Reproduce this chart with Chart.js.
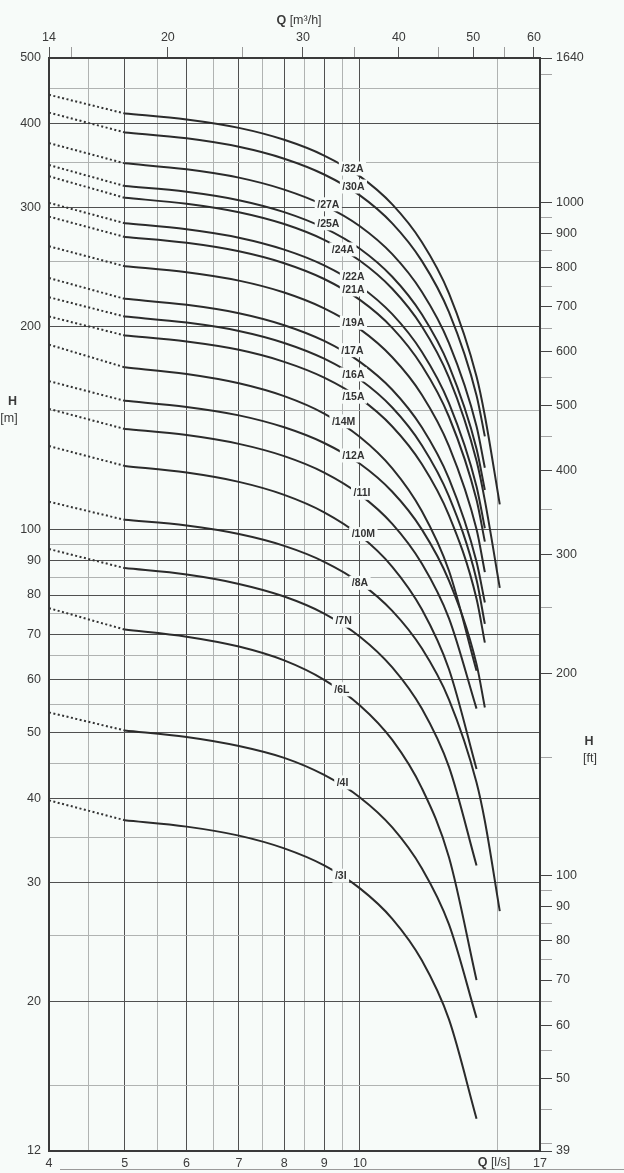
<!DOCTYPE html>
<html>
<head>
<meta charset="utf-8">
<script src="https://cdn.jsdelivr.net/npm/chart.js@4.4.0/dist/chart.umd.min.js"></script>
<style>
  html, body { margin: 0; padding: 0; background: #f7fbf9; }
  canvas { display: block; }
</style>
</head>
<body>
<canvas id="pump" width="624" height="1173"></canvas>
<script>
const BG = '#f7fbf9';
const INK = '#2b2b2b';
const TXT = '#3a3a3a';
const GRID_DARK = '#505050';
const GRID_LIGHT = '#b0b3b2';
const FONT = '"Liberation Sans", Arial, sans-serif';

// bottom axis Q [l/s]
const qTicks = [4, 4.5, 5, 5.5, 6, 6.5, 7, 7.5, 8, 8.5, 9, 9.5, 10, 15, 17];
const qLabels = [4, 5, 6, 7, 8, 9, 10, 17];
const qMajor = [5, 6, 7, 8, 9, 10];
// top axis Q [m3/h]
const m3Ticks = [14, 15, 20, 25, 30, 35, 40, 45, 50, 55, 60];
const m3Labels = [14, 20, 30, 40, 50, 60];
// left axis H [m]
const hTicks = [12, 15, 20, 25, 30, 35, 40, 45, 50, 55, 60, 65, 70, 75, 80, 85, 90, 95, 100, 150, 200, 250, 300, 350, 400, 450, 500];
const hLabels = [12, 20, 30, 40, 50, 60, 70, 80, 90, 100, 200, 300, 400, 500];
const hMajor = [20, 30, 40, 50, 60, 70, 80, 90, 100, 200, 300, 400];
// right axis H [ft]
const ftTicks = [39, 40, 45, 50, 55, 60, 65, 70, 75, 80, 85, 90, 95, 100, 150, 200, 250, 300, 350, 400, 450, 500, 550, 600, 650, 700, 750, 800, 850, 900, 950, 1000, 1550, 1640];
const ftLabels = [39, 50, 60, 70, 80, 90, 100, 200, 300, 400, 500, 600, 700, 800, 900, 1000, 1640];

// curves
const curveNames = ['/32A', '/30A', '/27A', '/25A', '/24A', '/22A', '/21A', '/19A', '/17A', '/16A',
  '/15A', '/14M', '/12A', '/11I', '/10M', '/8A', '/7N', '/6L', '/4I', '/3I'];
const qDotted = [4, 5];
const hAtStart = [441, 415, 374, 347, 334, 305, 291, 263, 236, 221, 207, 188, 166, 151, 133, 110, 93.6, 76.5, 53.6, 39.7];
const qCurve = [5, 6, 7, 8, 9, 10, 11, 12, 13, 14.1, 14.45, 15.1];
const h32A = [413.8, 405.4, 393.9, 378.2, 358.4, 333.8, 303.4, 266.9, 224, 168.6, 147.5, 109];
const h30A = [387.9, 380.1, 369.3, 354.6, 336, 312.9, 284.4, 250.2, 210, 158.1, 137.5, null];
const h27A = [349, 342, 332.4, 319.1, 302.4, 281.6, 256, 225.2, 189, 142.3, 123.5, null];
const h25A = [323, 316.8, 307.8, 295.5, 280, 260.8, 237, 208.5, 175, 131.8, 114.5, null];
const h24A = [310.3, 304.1, 295.4, 283.7, 268.8, 250.3, 227.5, 200.2, 168, 126.5, 110.5, 82];
const h22A = [284.5, 278.7, 270.8, 260, 246.4, 229.5, 208.6, 183.5, 154, 115.9, 100.5, null];
const h21A = [271.5, 266.1, 258.5, 248.2, 235.2, 219, 199.1, 175.1, 147, 110.7, 96, null];
const h19A = [245.7, 240.7, 233.9, 224.6, 212.8, 198.2, 180.1, 158.5, 133, 100.1, 86.5, null];
const h17A = [219.8, 215.4, 209.3, 200.9, 190.4, 177.3, 161.2, 141.8, 119, 89.6, 78, null];
const h16A = [206.9, 202.7, 197, 189.1, 179.2, 166.9, 151.7, 133.4, 112, 84.3, 72.5, null];
const h15A = [194, 190, 184.7, 177.3, 168, 156.5, 142.2, 125.1, 105, 79, 68, null];
const h14M = [174, 170.1, 164.8, 157.7, 148.6, 137.2, 123.3, 106.6, 86.9, 61.8, null, null];
const h12A = [155.2, 152, 147.7, 141.8, 134.4, 125.2, 113.8, 100.1, 84, 63.2, 54.5, null];
const h11I = [141, 138.1, 134, 128.5, 121.5, 112.7, 102, 89.1, 73.9, 54.3, null, null];
const h10M = [124.3, 121.5, 117.7, 112.6, 106.1, 98, 88.1, 76.2, 62.1, 44.2, null, null];
const h8A = [103.4, 101.4, 98.5, 94.6, 89.6, 83.4, 75.8, 66.7, 56, 42.2, 37, 27.2];
const h7N = [87.7, 85.8, 83.1, 79.6, 75.1, 69.4, 62.5, 54.3, 44.5, 31.8, null, null];
const h6L = [71.1, 69.4, 67.1, 64, 59.9, 54.9, 48.8, 41.4, 32.7, 21.5, null, null];
const h4I = [50.4, 49.3, 47.8, 45.9, 43.3, 40.1, 36.2, 31.5, 26, 18.9, null, null];
const h3I = [37.1, 36.3, 35.2, 33.7, 31.8, 29.4, 26.5, 23, 18.8, 13.4, null, null];
const curves = [h32A, h30A, h27A, h25A, h24A, h22A, h21A, h19A, h17A, h16A,
  h15A, h14M, h12A, h11I, h10M, h8A, h7N, h6L, h4I, h3I];

// where the curve names sit
const labelQ = [9.78, 9.81, 9.11, 9.11, 9.51, 9.81, 9.81, 9.81, 9.78, 9.81, 9.81, 9.53, 9.81, 10.06, 10.1, 10.0, 9.53, 9.48, 9.5, 9.45];
const labelH = [342.9, 322.5, 303.5, 284.4, 260.2, 236.8, 227, 202.6, 184.5, 169.8, 157.4, 144.7, 128.8, 113.4, 98.5, 83.4, 73.3, 58.0, 42.2, 30.7];

const datasets = [];
curves.forEach((h, i) => {
  datasets.push({
    label: curveNames[i] + ' ext',
    data: [{x: qDotted[0], y: hAtStart[i]}, {x: qDotted[1], y: h[0]}],
    borderColor: '#333',
    borderWidth: 2,
    borderDash: [2, 2.5],
    pointRadius: 0,
    tension: 0
  });
  datasets.push({
    label: curveNames[i],
    data: qCurve.map((q, j) => ({x: q, y: h[j]})).filter(p => p.y !== null),
    borderColor: INK,
    borderWidth: 2,
    pointRadius: 0,
    cubicInterpolationMode: 'monotone'
  });
});

const setTicks = list => scale => { scale.ticks = list.map(v => ({value: v})); };
const noPad = s => { s.paddingLeft = 0; s.paddingRight = 0; s.paddingTop = 0; s.paddingBottom = 0; };
const tickFont = {family: FONT, size: 12.5};

const background = {
  id: 'background',
  beforeDraw(chart) {
    const ctx = chart.ctx;
    ctx.save();
    ctx.fillStyle = BG;
    ctx.fillRect(0, 0, chart.width, chart.height);
    ctx.restore();
  }
};

const curveLabels = {
  id: 'curveLabels',
  afterDatasetsDraw(chart) {
    const {ctx, scales: {x, y}} = chart;
    ctx.save();
    ctx.font = 'bold 10.5px ' + FONT;
    ctx.textAlign = 'center';
    ctx.textBaseline = 'middle';
    curveNames.forEach((name, i) => {
      const px = x.getPixelForValue(labelQ[i]);
      const py = y.getPixelForValue(labelH[i]);
      const w = ctx.measureText(name).width + 5;
      ctx.fillStyle = BG;
      ctx.fillRect(px - w / 2, py - 7, w, 14);
      ctx.fillStyle = '#333';
      ctx.fillText(name, px, py + 0.5);
    });
    ctx.restore();
  }
};

function twoPart(ctx, bold, normal, cx, cy) {
  ctx.font = 'bold 12.5px ' + FONT;
  const w1 = ctx.measureText(bold).width;
  ctx.font = '12.5px ' + FONT;
  const w2 = ctx.measureText(normal).width;
  let x0 = cx - (w1 + w2) / 2;
  ctx.textAlign = 'left';
  ctx.font = 'bold 12.5px ' + FONT;
  ctx.fillText(bold, x0, cy);
  ctx.font = '12.5px ' + FONT;
  ctx.fillText(normal, x0 + w1, cy);
}

const titles = {
  id: 'titles',
  afterDraw(chart) {
    const ctx = chart.ctx;
    ctx.save();
    ctx.fillStyle = TXT;
    ctx.textBaseline = 'middle';
    twoPart(ctx, 'Q', ' [m³/h]', 299, 21);
    twoPart(ctx, 'Q', ' [l/s]', 494, 1163);
    ctx.textAlign = 'center';
    ctx.font = 'bold 12.5px ' + FONT;
    ctx.fillText('H', 12.5, 402);
    ctx.fillText('H', 589, 742);
    ctx.font = '12.5px ' + FONT;
    ctx.fillText('[m]', 9, 419);
    ctx.fillText('[ft]', 590, 759);
    // rule under the bottom labels
    ctx.strokeStyle = '#9a9a9a';
    ctx.lineWidth = 1;
    ctx.beginPath();
    ctx.moveTo(60, 1169.5);
    ctx.lineTo(624, 1169.5);
    ctx.stroke();
    ctx.restore();
  }
};

new Chart(document.getElementById('pump'), {
  type: 'line',
  data: {datasets},
  plugins: [background, curveLabels, titles],
  options: {
    responsive: false,
    animation: false,
    layout: {padding: 0},
    plugins: {legend: {display: false}, tooltip: {enabled: false}},
    scales: {
      x: {
        type: 'logarithmic', position: 'bottom', min: 4, max: 17,
        afterBuildTicks: setTicks(qTicks),
        afterFit: s => { s.height = 22; noPad(s); },
        ticks: {autoSkip: false, maxRotation: 0, padding: 5, color: TXT, font: tickFont,
          callback: v => qLabels.includes(v) ? String(v) : ''},
        grid: {drawTicks: false, lineWidth: 1,
          color: c => (c.tick && qMajor.includes(c.tick.value)) ? GRID_DARK : GRID_LIGHT},
        border: {color: '#3a3a3a', width: 2}
      },
      x2: {
        type: 'logarithmic', position: 'top', min: 14, max: 61.1,
        afterBuildTicks: setTicks(m3Ticks),
        afterFit: s => { s.height = 58; noPad(s); },
        ticks: {autoSkip: false, maxRotation: 0, padding: 2, color: TXT, font: tickFont,
          callback: v => m3Labels.includes(v) ? String(v) : ''},
        grid: {drawOnChartArea: false, drawTicks: true, tickLength: 11, lineWidth: 1,
          tickColor: c => (c.tick && m3Labels.includes(c.tick.value)) ? '#555' : '#9c9c9c'},
        border: {color: '#3a3a3a', width: 2}
      },
      y: {
        type: 'logarithmic', position: 'left', min: 12, max: 500,
        afterBuildTicks: setTicks(hTicks),
        afterFit: s => { s.width = 49; noPad(s); },
        ticks: {autoSkip: false, padding: 8, color: TXT, font: tickFont,
          callback: v => hLabels.includes(v) ? String(v) : ''},
        grid: {drawTicks: false, lineWidth: 1,
          color: c => (c.tick && hMajor.includes(c.tick.value)) ? GRID_DARK : GRID_LIGHT},
        border: {color: '#3a3a3a', width: 2}
      },
      y2: {
        type: 'logarithmic', position: 'right', min: 39, max: 1640,
        afterBuildTicks: setTicks(ftTicks),
        afterFit: s => { s.width = 84; noPad(s); },
        ticks: {autoSkip: false, padding: 4, color: TXT, font: tickFont,
          callback: v => ftLabels.includes(v) ? String(v) : ''},
        grid: {drawOnChartArea: false, drawTicks: true, tickLength: 12, lineWidth: 1,
          tickColor: c => (c.tick && ftLabels.includes(c.tick.value)) ? '#444' : '#a4a4a4'},
        border: {color: '#3a3a3a', width: 2}
      }
    }
  }
});
</script>
</body>
</html>
